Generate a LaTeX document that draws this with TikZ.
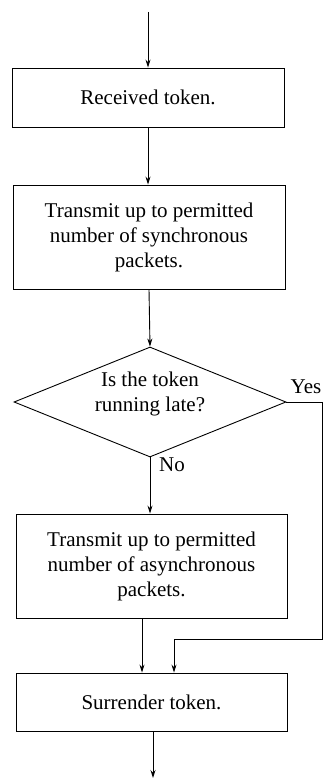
\documentclass[tikz,border=0pt]{standalone}
\usepackage{fontspec}
\setmainfont{Liberation Serif}
\usetikzlibrary{shapes.geometric,arrows.meta}
\tikzset{
  every node/.style={font=\rmfamily\fontsize{21bp}{25bp}\selectfont, text=black},
  procbox/.style={draw, line width=0.9bp, rectangle, align=center, inner sep=0pt},
  decbox/.style={draw, line width=0.9bp, diamond, inner sep=0pt, minimum width=272bp, minimum height=110bp},
  flow/.style={line width=0.9bp, -{Stealth[length=8bp,width=5bp]}},
  plain/.style={line width=0.9bp},
  lbl/.style={inner sep=0pt}
}
\begin{document}
\begin{tikzpicture}[x=1bp,y=-1bp]
\useasboundingbox[fill=white] (0,0) rectangle (324,778);
\coordinate (start) at (148,12);
\node[procbox, minimum width=272bp, minimum height=59bp] (b1) at (148,97.5) {Received token.};
\node[procbox, minimum width=272bp, minimum height=104bp] (b2) at (149,237) {Transmit up to permitted\\number of synchronous\\packets.};
\node[decbox] (d) at (150,402) {};
\node[lbl, align=center] (dq) at (150,393.5) {Is the token\\running late?};
\node[lbl] (yes) at (306,387) {Yes};
\node[lbl] (no) at (172,465) {No};
\node[procbox, minimum width=271bp, minimum height=104bp] (b3) at (151.5,566) {Transmit up to permitted\\number of asynchronous\\packets.};
\node[procbox, minimum width=271bp, minimum height=58bp] (b4) at (151.5,702) {Surrender token.};
\coordinate (m1) at (142,0);
\coordinate (yr) at (322,639);
\coordinate (yl) at (174,639);
\coordinate (fin) at (153,778);

\draw[flow] (start) -- (start |- b1.north);
\draw[flow] (b1.south) -- (b1.south |- b2.north);
\draw[flow] (b2.south) -- (d.north);
\draw[flow] (d.south) -- (d.south |- b3.north);
\draw[flow] (m1 |- b3.south) -- (m1 |- b4.north);
\draw[plain] (d.east) -| (yr) -- (yl);
\draw[flow] (yl) -- (yl |- b4.north);
\draw[flow] (b4.south -| fin) -- (fin);
\end{tikzpicture}
\end{document}
